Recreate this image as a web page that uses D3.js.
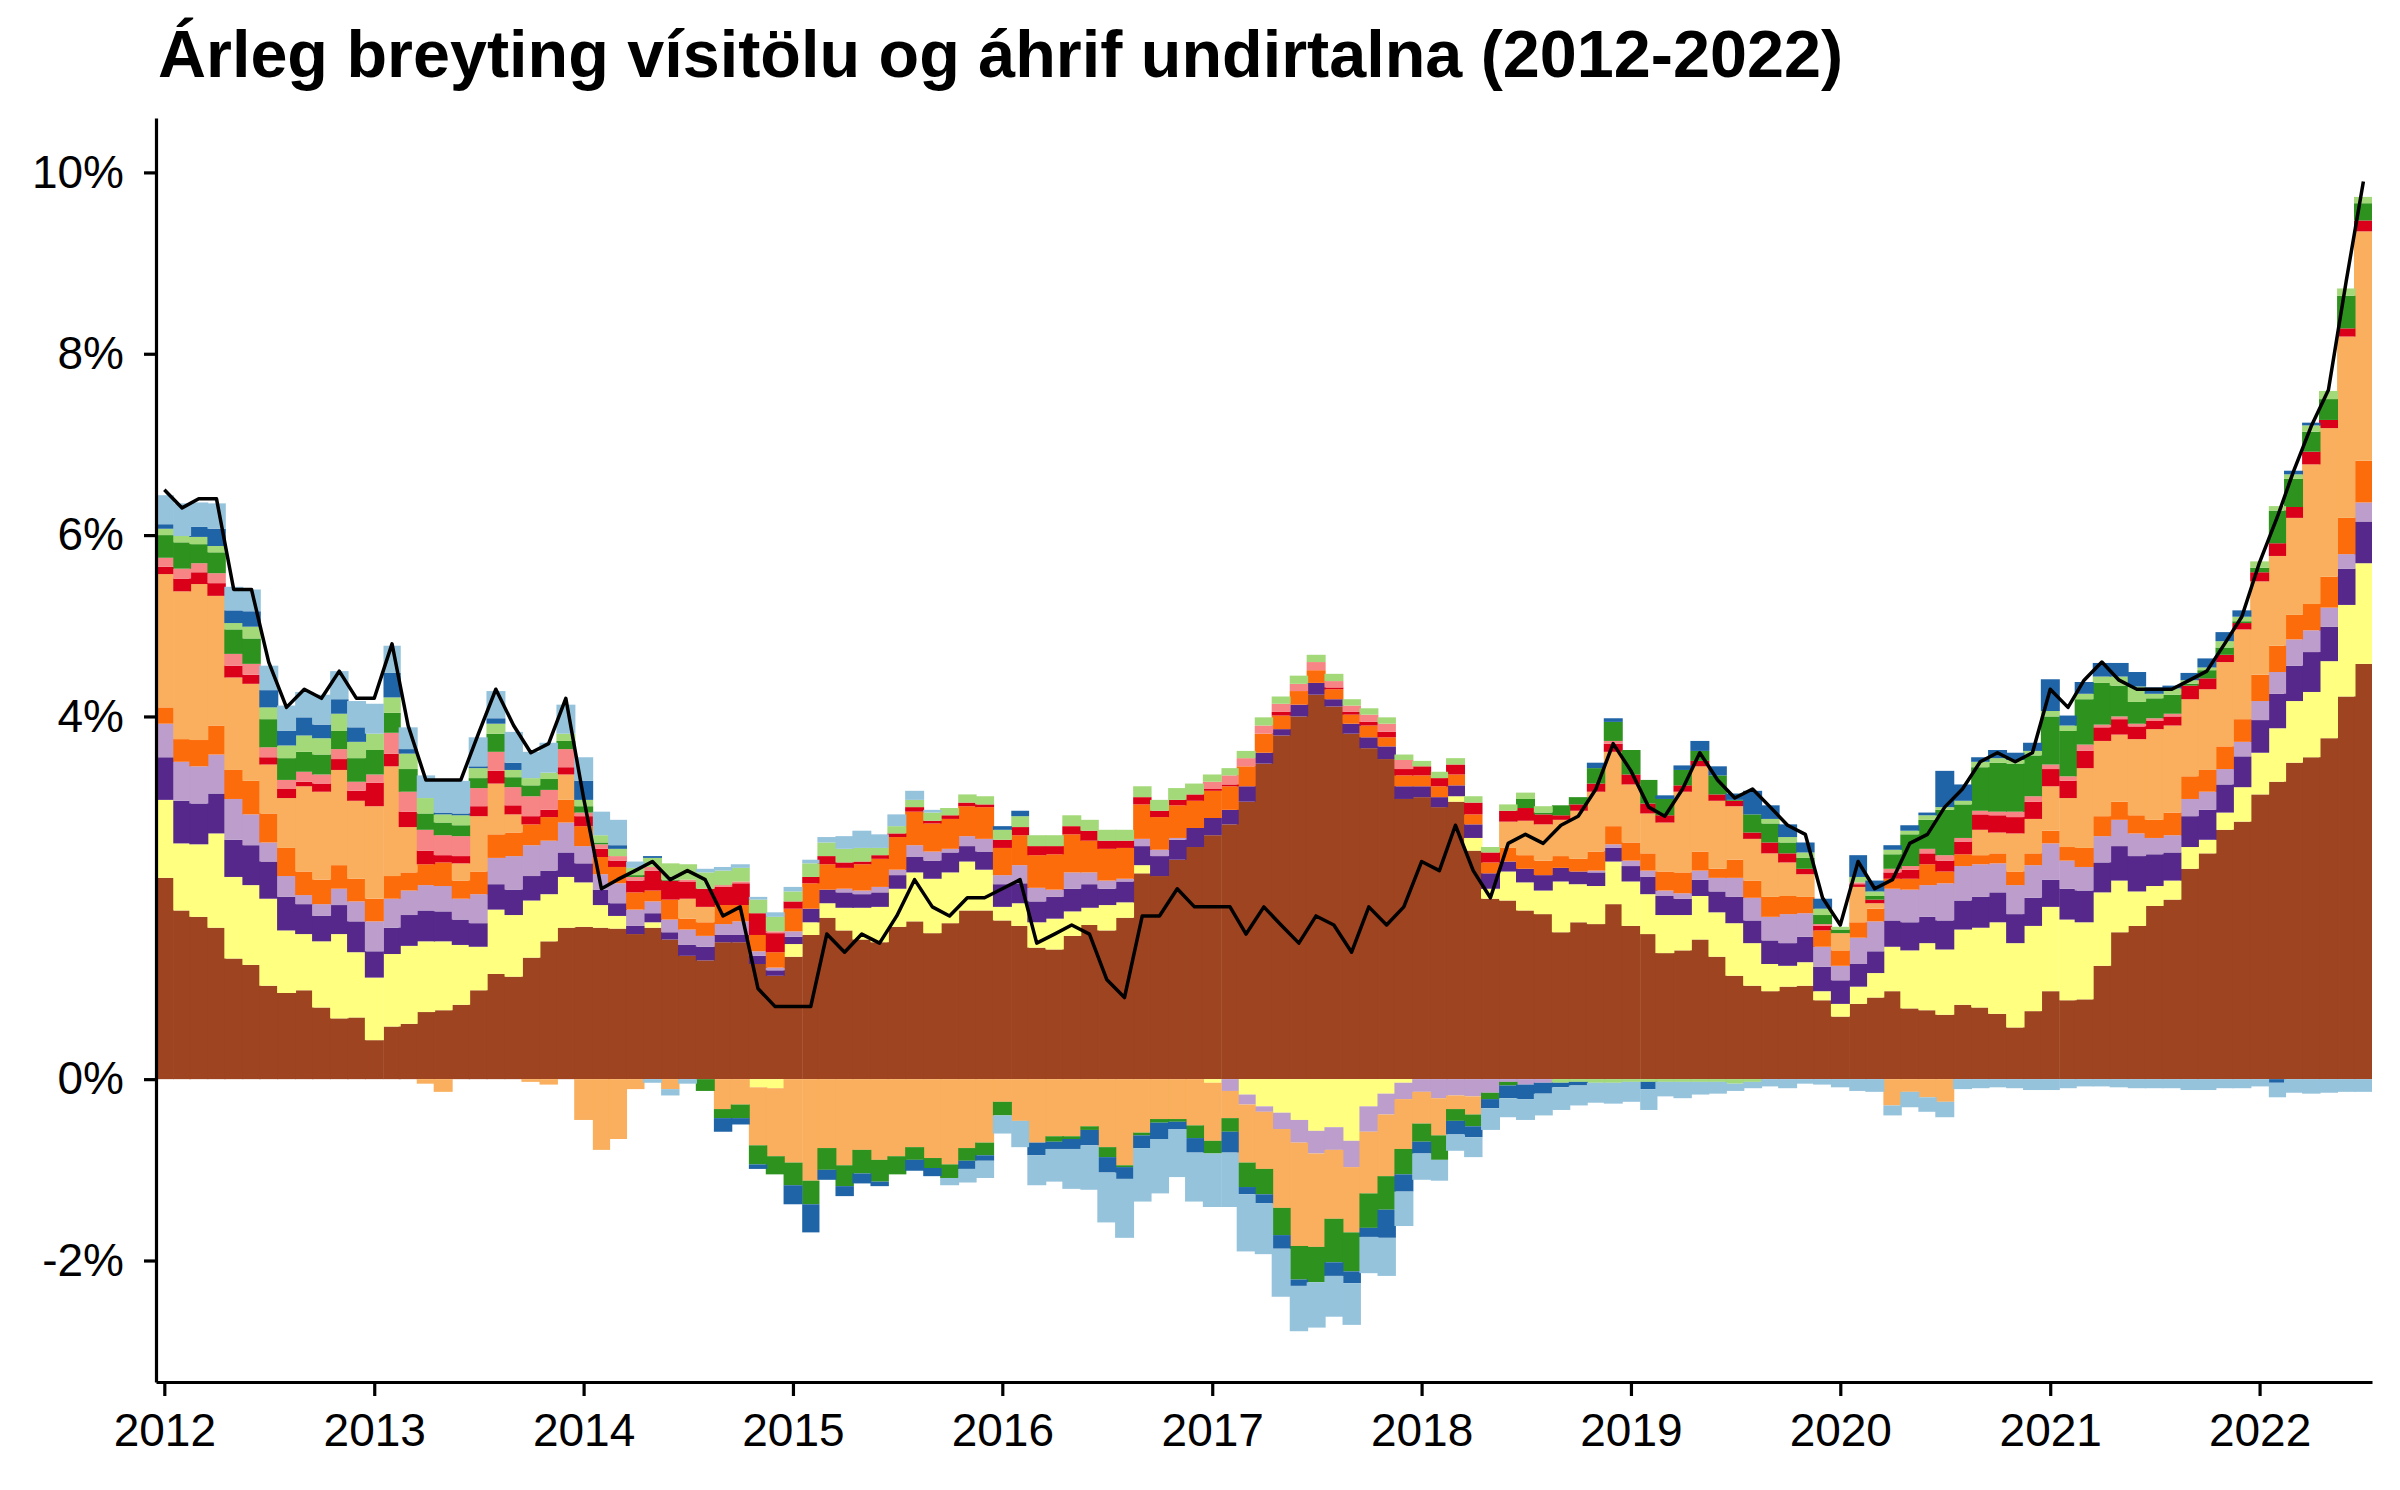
<!DOCTYPE html>
<html>
<head>
<meta charset="utf-8">
<script src="https://cdn.jsdelivr.net/npm/d3@7"></script>
<style>
  html, body { margin: 0; padding: 0; background: #ffffff; }
  svg { display: block; }
</style>
</head>
<body>
<svg id="chart" width="2400" height="1490"></svg>
<script>
// ---------------- DATA ----------------
const titleText = "Árleg breyting vísitölu og áhrif undirtalna (2012-2022)";
const firstMonth = "2012-01";
const lastMonth = "2022-07";
const yTickValues = [-2, 0, 4, 6, 8, 10];
const xTickYears = [2012, 2013, 2014, 2015, 2016, 2017, 2018, 2019, 2020, 2021, 2022];

// component contributions (percentage points), Jan 2012 .. Jul 2022
const brown = [
  2.22, 1.86, 1.79, 1.67, 1.33, 1.26, 1.03, 0.95, 0.98, 0.79, 0.67, 0.68,
  0.43, 0.58, 0.61, 0.74, 0.76, 0.82, 0.98, 1.16, 1.13, 1.34, 1.52, 1.67,
  1.68, 1.67, 1.66, 1.60, 1.67, 1.54, 1.36, 1.31, 1.51, 1.51, 1.27, 1.14,
  1.35, 1.59, 1.78, 1.64, 1.54, 1.51, 1.68, 1.74, 1.61, 1.72, 1.86, 1.86,
  1.75, 1.69, 1.45, 1.43, 1.58, 1.70, 1.64, 1.78, 2.27, 2.24, 2.42, 2.56,
  2.69, 2.81, 3.06, 3.48, 3.79, 4.00, 4.24, 4.11, 3.81, 3.65, 3.53, 3.09,
  3.11, 3.00, 3.06, 2.52, 1.99, 1.97, 1.86, 1.82, 1.62, 1.73, 1.71, 1.93,
  1.69, 1.60, 1.39, 1.42, 1.54, 1.35, 1.14, 1.03, 0.97, 1.02, 1.03, 0.87,
  0.69, 0.83, 0.90, 0.97, 0.78, 0.76, 0.71, 0.82, 0.79, 0.72, 0.57, 0.75,
  0.97, 0.87, 0.88, 1.25, 1.62, 1.69, 1.91, 1.98, 2.32, 2.49, 2.75, 2.84,
  3.14, 3.28, 3.49, 3.55, 3.76, 4.22, 4.58
];
const yellow = [
  0.86, 0.74, 0.80, 1.04, 0.90, 0.88, 0.96, 0.69, 0.62, 0.73, 0.93, 0.72,
  0.69, 0.80, 0.86, 0.78, 0.76, 0.66, 0.48, 0.71, 0.68, 0.63, 0.52, 0.56,
  0.49, 0.25, 0.14, 0, 0.06, 0, 0, 0, 0, 0, -0.09, -0.10,
  0.14, 0.14, 0.16, 0.25, 0.35, 0.39, 0.42, 0.54, 0.60, 0.56, 0.54, 0.45,
  0.15, 0.25, 0.28, 0.34, 0.27, 0.19, 0.28, 0.17, 0.09, 0, 0, 0,
  -0.04, 0, -0.17, -0.30, -0.37, -0.45, -0.57, -0.53, -0.68, -0.30, -0.16, -0.04,
  0, 0, 0.06, 0.14, 0.11, 0.32, 0.31, 0.26, 0.56, 0.42, 0.42, 0.47,
  0.49, 0.44, 0.42, 0.39, 0.48, 0.49, 0.58, 0.47, 0.30, 0.23, 0.26, 0.10,
  0.14, 0.19, 0.27, 0.49, 0.64, 0.74, 0.72, 0.83, 0.88, 1.01, 0.93, 0.94,
  0.93, 0.89, 0.85, 0.81, 0.57, 0.38, 0.22, 0.21, 0.24, 0.15, 0.19, 0.38,
  0.46, 0.59, 0.68, 0.72, 0.85, 1.01, 1.11
];
const purple = [
  0.47, 0.47, 0.45, 0.44, 0.41, 0.44, 0.41, 0.37, 0.33, 0.28, 0.32, 0.34,
  0.29, 0.29, 0.34, 0.34, 0.33, 0.28, 0.26, 0.28, 0.28, 0.27, 0.26, 0.27,
  0.21, 0.17, 0.14, 0.09, 0.10, 0.08, 0.12, 0.15, 0.08, 0.08, 0.09, 0.06,
  0.08, 0.15, 0.15, 0.17, 0.15, 0.16, 0.15, 0.17, 0.20, 0.22, 0.17, 0.20,
  0.25, 0.22, 0.23, 0.24, 0.25, 0.26, 0.18, 0.23, 0.21, 0.22, 0.22, 0.21,
  0.19, 0.16, 0.17, 0.12, 0.07, 0.13, 0.13, 0.08, 0.11, 0.12, 0.14, 0.14,
  0.12, 0.11, 0.12, 0.15, 0.17, 0.11, 0.15, 0.17, 0.15, 0.14, 0.15, 0.15,
  0.17, 0.19, 0.21, 0.18, 0.18, 0.23, 0.29, 0.25, 0.26, 0.25, 0.28, 0.27,
  0.26, 0.25, 0.24, 0.29, 0.31, 0.29, 0.32, 0.32, 0.34, 0.33, 0.32, 0.31,
  0.30, 0.34, 0.35, 0.33, 0.38, 0.39, 0.35, 0.31, 0.34, 0.33, 0.31, 0.34,
  0.36, 0.38, 0.39, 0.44, 0.38, 0.40, 0.46
];
const lightPurple = [
  0.37, 0.43, 0.41, 0.43, 0.45, 0.34, 0.21, 0.23, 0.10, 0.13, 0.18, 0.22,
  0.33, 0.32, 0.27, 0.28, 0.28, 0.23, 0.32, 0.29, 0.37, 0.34, 0.33, 0.33,
  0.19, 0.17, 0.22, 0.18, 0.13, 0.14, 0.17, 0.12, 0.12, 0.15, 0.05, 0.03,
  0.06, 0, 0, 0.04, 0.04, 0.06, 0.06, 0.13, 0.10, 0.04, 0.11, 0.14,
  0.10, 0.20, 0.15, 0.08, 0.18, 0.13, 0.09, 0.03, 0.08, 0.07, 0.02, 0,
  0, -0.13, -0.11, -0.06, -0.18, -0.25, -0.25, -0.25, -0.29, -0.28, -0.23, -0.18,
  -0.14, -0.21, -0.18, -0.19, -0.15, -0.03, -0.06, -0.04, 0, 0, 0.02, 0.04,
  0.06, 0.07, 0.06, 0.06, 0.10, 0.15, 0.21, 0.25, 0.26, 0.32, 0.26, 0.22,
  0.16, 0.29, 0.33, 0.35, 0.36, 0.35, 0.41, 0.38, 0.36, 0.32, 0.32, 0.36,
  0.40, 0.31, 0.26, 0.29, 0.29, 0.25, 0.18, 0.19, 0.19, 0.20, 0.17, 0.16,
  0.21, 0.24, 0.29, 0.24, 0.21, 0.16, 0.21
];
const orange = [
  0.18, 0.25, 0.29, 0.32, 0.32, 0.37, 0.32, 0.31, 0.26, 0.27, 0.26, 0.25,
  0.25, 0.25, 0.20, 0.23, 0.26, 0.20, 0.25, 0.26, 0.26, 0.23, 0.26, 0.25,
  0.22, 0.19, 0.18, 0.19, 0.12, 0.22, 0.12, 0.15, 0.21, 0.18, 0.18, 0.17,
  0.25, 0.28, 0.28, 0.23, 0.29, 0.31, 0.36, 0.37, 0.31, 0.33, 0.33, 0.35,
  0.30, 0.33, 0.36, 0.39, 0.42, 0.35, 0.35, 0.34, 0.38, 0.36, 0.36, 0.30,
  0.30, 0.26, 0.22, 0.21, 0.15, 0.15, 0.14, 0.11, 0.10, 0.13, 0.10, 0.12,
  0.12, 0.12, 0.12, 0.11, 0.12, 0.15, 0.15, 0.16, 0.13, 0.14, 0.21, 0.20,
  0.20, 0.19, 0.21, 0.23, 0.21, 0.10, 0.20, 0.19, 0.22, 0.20, 0.18, 0.18,
  0.17, 0.17, 0.14, 0.11, 0.12, 0.23, 0.13, 0.13, 0.10, 0.11, 0.15, 0.13,
  0.14, 0.15, 0.21, 0.22, 0.20, 0.20, 0.20, 0.25, 0.25, 0.24, 0.25, 0.25,
  0.29, 0.29, 0.27, 0.29, 0.34, 0.40, 0.46
];
const lightOrange = [
  1.47, 1.63, 1.72, 1.43, 1.02, 1.07, 0.54, 0.55, 0.94, 0.97, 1.05, 0.86,
  1.02, 1.21, 0.50, -0.05, -0.14, 0.19, 0.61, 0.56, 0.20, -0.03, -0.06, 0.28,
  -0.45, -0.78, -0.66, -0.11, 0, -0.11, 0.22, 0.17, -0.33, -0.28, -0.64, -0.75,
  -0.92, -1.12, -0.76, -0.95, -0.78, -0.89, -0.85, -0.75, -0.87, -0.94, -0.76, -0.70,
  -0.25, -0.46, -0.70, -0.63, -0.63, -0.52, -0.75, -0.95, -0.59, -0.44, -0.44, -0.51,
  -0.64, -0.30, -0.64, -0.63, -0.87, -1.14, -1.03, -0.76, -0.72, -0.68, -0.68, -0.55,
  -0.35, -0.41, -0.15, -0.20, 0, 0.29, 0.38, 0.40, 0.40, 0.53, 0.66, 0.82,
  0.64, 0.44, 0.54, 0.89, 0.94, 0.75, 0.59, 0.46, 0.48, 0.37, 0.25, 0,
  0.19, 0.39, 0.06, -0.29, -0.14, -0.20, -0.25, 0, 0.28, 0.23, 0.42, 0.38,
  0.49, 0.54, 0.88, 0.83, 0.74, 0.84, 1.00, 0.96, 0.85, 0.89, 0.93, 0.99,
  1.03, 0.99, 1.07, 1.54, 1.64, 2.00, 2.53
];
const red = [
  0.08, 0.14, 0.13, 0.14, 0.13, 0.10, 0.08, 0.10, 0.05, 0.09, 0.12, 0.11,
  0.26, 0.14, 0.17, 0.15, 0.08, 0.08, 0.11, 0.14, 0.10, 0.09, 0.08, 0.08,
  0.11, 0.09, 0.07, 0.13, 0.22, 0.21, 0.19, 0.20, 0.20, 0.24, 0.24, 0.21,
  0.08, 0.07, 0.09, 0.06, 0.03, 0.04, 0.04, 0.05, 0.03, 0.04, 0.04, 0.03,
  0.09, 0.09, 0.10, 0.09, 0.09, 0.11, 0.09, 0.08, 0.08, 0.07, 0.06, 0.07,
  0.02, 0.02, 0, 0, 0.04, 0, 0, 0.02, 0.03, 0.04, 0.06, 0.07,
  0.10, 0.09, 0.11, 0.13, 0.11, 0.12, 0.14, 0.11, 0.05, 0.07, 0.09, 0.09,
  0.11, 0.11, 0.08, 0.07, 0.06, 0.07, 0.06, 0.07, 0.12, 0.10, 0.06, 0.05,
  0, 0.03, 0.04, 0.07, 0.10, 0.12, 0.12, 0.14, 0.17, 0.19, 0.18, 0.19,
  0.19, 0.19, 0.19, 0.15, 0.17, 0.14, 0.09, 0.10, 0.15, 0.12, 0.08, 0.07,
  0.10, 0.14, 0.12, 0.14, 0.09, 0.09, 0.12
];
const pink = [
  0.10, 0.11, 0.10, 0.11, 0.13, 0.12, 0.11, 0.10, 0.11, 0.10, 0.11, 0.10,
  0.09, 0.23, 0.22, 0.23, 0.22, 0.22, 0.20, 0.21, 0.20, 0.22, 0.22, 0.20,
  0.04, 0.05, 0.05, 0.04, 0.04, 0, 0.02, 0, 0.02, 0.02, 0, 0.02,
  0, 0, 0, 0, 0, 0, 0, 0, 0, 0, 0, 0,
  0, 0, 0, 0, 0, 0, 0, 0, 0, 0, 0, 0,
  0.08, 0.10, 0.09, 0.09, 0.09, 0.08, 0.09, 0.07, 0.07, 0.08, 0.09, 0.10,
  0, 0, 0, 0, 0, 0, 0, 0, 0, 0, 0, 0.03,
  0, 0, 0, 0, 0, 0, 0, 0, 0, 0, 0, 0.02,
  0, 0.02, 0, 0.04, 0.04, 0.05, 0.06, 0.04, 0.04, 0.04, 0.06, 0.06,
  0.05, 0.05, 0.07, 0.03, 0.03, 0.03, 0.03, 0.03, 0, 0, 0, 0,
  0, 0, 0, 0, 0, 0, 0
];
const darkGreen = [
  0.25, 0.29, 0.21, 0.23, 0.27, 0.28, 0.31, 0.24, 0.22, 0.22, 0.20, 0.26,
  0.27, 0.22, 0.25, 0.18, 0.14, 0.12, 0.11, 0.20, 0.11, 0.12, 0.12, 0.09,
  0.07, 0.02, 0, 0.02, 0, 0.01, 0, -0.13, -0.10, -0.15, -0.21, -0.20,
  -0.25, -0.26, -0.24, -0.23, -0.26, -0.24, -0.20, -0.14, -0.11, -0.15, -0.14, -0.14,
  -0.15, 0, 0, -0.06, -0.03, -0.04, -0.11, -0.02, -0.03, -0.04, -0.03, -0.14,
  -0.14, -0.15, -0.27, -0.28, -0.30, -0.37, -0.39, -0.48, -0.43, -0.38, -0.37, -0.28,
  -0.20, -0.27, -0.13, -0.13, -0.07, -0.04, 0.10, 0.02, 0.11, 0.08, 0.17, 0.21,
  0.27, 0.26, 0.18, 0.17, 0.11, 0.21, 0.01, 0.20, 0.21, 0.12, 0.12, 0.10,
  0.04, 0, 0.04, 0.16, 0.35, 0.32, 0.50, 0.37, 0.48, 0.54, 0.53, 0.45,
  0.53, 0.50, 0.50, 0.46, 0.34, 0.24, 0.22, 0.21, 0.02, 0.09, 0.08, 0.02,
  0.05, 0.36, 0.31, 0.22, 0.23, 0.36, 0.19
];
const lightGreen = [
  0.07, 0.07, 0.08, 0.07, 0.07, 0.13, 0.13, 0.14, 0.18, 0.18, 0.19, 0.18,
  0.18, 0.17, 0.17, 0.17, 0.09, 0.11, 0.11, 0.11, 0.08, 0.08, 0.07, 0.08,
  0.07, 0.08, 0.08, 0.08, 0.10, 0.18, 0.17, 0.18, 0.16, 0.15, 0.15, 0.16,
  0.11, 0.15, 0.15, 0.15, 0.15, 0.08, 0.08, 0.08, 0.09, 0.08, 0.09, 0.09,
  0.11, 0.12, 0.12, 0.12, 0.12, 0.12, 0.12, 0.12, 0.12, 0.12, 0.13, 0.12,
  0.08, 0.08, 0.08, 0.09, 0.08, 0.09, 0.08, 0.08, 0.07, 0.07, 0.07, 0.06,
  0.06, 0.07, 0.07, 0.07, 0.06, 0.07, 0.07, 0.07, -0.04, -0.03, -0.04, -0.04,
  -0.03, -0.03, -0.03, -0.03, -0.03, -0.03, -0.05, -0.03, 0.05, 0.06, 0.06, 0.07,
  0.03, 0.06, 0.05, 0.05, 0.04, 0.05, 0.03, 0.04, 0.06, 0.05, 0.04, 0.05,
  0.06, 0.06, 0.06, 0.07, 0.10, 0.17, 0.05, 0.07, 0.04, 0.03, 0.07, 0.05,
  0.07, 0.05, 0.05, 0.07, 0.09, 0.08, 0.07
];
const darkBlue = [
  0.05, 0, 0.11, 0.19, 0.14, 0.17, 0.19, 0.16, 0.20, 0.15, 0.16, 0.16,
  0, 0.27, 0.05, 0, 0.02, 0.02, 0.02, 0.06, 0.08, 0, 0, 0,
  0.21, 0, 0.04, 0, 0.02, 0, 0, 0, -0.15, -0.07, -0.05, 0,
  -0.21, -0.31, -0.11, -0.11, -0.11, -0.05, 0, -0.12, -0.09, 0, -0.09, -0.06,
  0.04, 0.06, -0.14, -0.08, -0.11, -0.17, -0.17, -0.13, -0.14, -0.18, -0.08, -0.16,
  0, -0.23, -0.08, -0.10, -0.15, -0.07, 0, -0.15, -0.13, -0.10, -0.31, -0.19,
  -0.13, 0, -0.15, -0.12, -0.10, -0.14, -0.16, -0.12, -0.05, -0.04, 0.06, 0.04,
  0, -0.08, 0.04, 0.05, 0.11, 0.10, 0.07, 0.26, 0.15, 0.14, 0.11, 0.11,
  0, 0.24, 0.12, 0.05, 0.06, 0.03, 0.40, 0.18, 0.05, 0.09, 0.08, 0.09,
  0.35, 0.11, 0.13, 0.15, 0.15, 0.16, 0.07, 0.03, 0.08, 0.10, 0.10, 0.07,
  0, -0.04, 0.04, 0.03, 0, 0, 0
];
const lightBlue = [
  0.32, 0.36, 0.27, 0.28, 0.26, 0.24, 0.27, 0.28, 0.28, 0.33, 0.31, 0.29,
  0.33, 0.30, 0.24, 0.25, 0.36, 0.36, 0.32, 0.30, 0.34, 0.29, 0.33, 0.32,
  0.26, 0.26, 0.28, 0.07, -0.04, -0.07, -0.05, 0.04, 0.04, 0.04, 0.03, 0.05,
  0.05, 0.04, 0.06, 0.14, 0.19, 0.15, 0.13, 0.10, 0.03, -0.08, -0.15, -0.19,
  -0.20, -0.29, -0.33, -0.36, -0.44, -0.49, -0.55, -0.65, -0.59, -0.60, -0.53, -0.54,
  -0.59, -0.60, -0.63, -0.56, -0.53, -0.50, -0.50, -0.45, -0.46, -0.40, -0.42, -0.38,
  -0.29, -0.23, -0.18, -0.22, -0.24, -0.21, -0.23, -0.24, -0.25, -0.22, -0.22, -0.23,
  -0.22, -0.23, -0.16, -0.18, -0.14, -0.13, -0.08, -0.07, -0.08, -0.10, -0.05, -0.06,
  -0.09, -0.13, -0.14, -0.11, -0.17, -0.16, -0.17, -0.11, -0.10, -0.09, -0.10, -0.12,
  -0.12, -0.10, -0.08, -0.08, -0.09, -0.10, -0.10, -0.10, -0.12, -0.12, -0.10, -0.10,
  -0.08, -0.16, -0.15, -0.16, -0.15, -0.14, -0.14
];
// total annual change of the index (line)
const totalIndex = [
  6.5, 6.3, 6.4, 6.4, 5.4, 5.4, 4.6, 4.1, 4.3, 4.2, 4.5, 4.2,
  4.2, 4.8, 3.9, 3.3, 3.3, 3.3, 3.8, 4.3, 3.9, 3.6, 3.7, 4.2,
  3.1, 2.1, 2.2, 2.3, 2.4, 2.2, 2.3, 2.2, 1.8, 1.9, 1.0, 0.8,
  0.8, 0.8, 1.6, 1.4, 1.6, 1.5, 1.8, 2.2, 1.9, 1.8, 2.0, 2.0,
  2.1, 2.2, 1.5, 1.6, 1.7, 1.6, 1.1, 0.9, 1.8, 1.8, 2.1, 1.9,
  1.9, 1.9, 1.6, 1.9, 1.7, 1.5, 1.8, 1.7, 1.4, 1.9, 1.7, 1.9,
  2.4, 2.3, 2.8, 2.3, 2.0, 2.6, 2.7, 2.6, 2.8, 2.9, 3.2, 3.7,
  3.4, 3.0, 2.9, 3.2, 3.6, 3.3, 3.1, 3.2, 3.0, 2.8, 2.7, 2.0,
  1.7, 2.4, 2.1, 2.2, 2.6, 2.7, 3.0, 3.2, 3.5, 3.6, 3.5, 3.6,
  4.3, 4.1, 4.4, 4.6, 4.4, 4.3, 4.3, 4.3, 4.4, 4.5, 4.8, 5.1,
  5.7, 6.2, 6.7, 7.2, 7.6, 8.8, 9.9
];

// ---------------- STYLE ----------------
const seriesKeys = ["brown", "yellow", "purple", "lightPurple", "orange", "lightOrange",
                    "red", "pink", "darkGreen", "lightGreen", "darkBlue", "lightBlue"];
const seriesValues = { brown, yellow, purple, lightPurple, orange, lightOrange,
                       red, pink, darkGreen, lightGreen, darkBlue, lightBlue };
const palette = {
  brown: "#9e4420", yellow: "#ffff80", purple: "#57288b", lightPurple: "#bc9dcb",
  orange: "#fd6c0b", lightOrange: "#f9af5d", red: "#db001a", pink: "#f78585",
  darkGreen: "#2e921f", lightGreen: "#a3d978", darkBlue: "#1f64a6", lightBlue: "#96c3dc"
};
const FONT = "'Liberation Sans', Arial, Helvetica, sans-serif";

// ---------------- BUILD ----------------
const parseMonth = d3.timeParse("%Y-%m");
const months = d3.timeMonth.range(parseMonth(firstMonth), d3.timeMonth.offset(parseMonth(lastMonth), 1));

const table = months.map((m, i) => {
  const row = { date: m };
  seriesKeys.forEach(k => { row[k] = seriesValues[k][i]; });
  return row;
});

const svg = d3.select("#chart");
svg.append("rect").attr("width", 2400).attr("height", 1490).attr("fill", "#ffffff");

const plotLeft = 156, plotRight = 2372, plotTop = 118, plotBottom = 1382;

const x = d3.scaleTime()
  .domain([new Date(2011, 11, 17, 12), new Date(2022, 6, 16)])
  .range([plotLeft, plotRight]);
const y = d3.scaleLinear()
  .domain([-3.34, 10.6])
  .range([plotBottom, plotTop]);

const stack = d3.stack().keys(seriesKeys).offset(d3.stackOffsetDiverging);
const layers = stack(table);

svg.append("defs").append("clipPath").attr("id", "plotclip")
  .append("rect").attr("x", plotLeft).attr("y", plotTop)
  .attr("width", plotRight - plotLeft).attr("height", plotBottom - plotTop);

const gBars = svg.append("g").attr("clip-path", "url(#plotclip)");
const barLeft = d => {
  const c = x(d.data.date);
  const w = x(d3.timeMonth.offset(d.data.date, 1)) - c;
  return c - w / 2;
};
const barWidth = d => x(d3.timeMonth.offset(d.data.date, 1)) - x(d.data.date);
layers.forEach(layer => {
  gBars.append("g").attr("fill", palette[layer.key])
    .selectAll("rect")
    .data(layer.filter(d => Math.abs(d[1] - d[0]) > 1e-9))
    .join("rect")
    .attr("x", d => barLeft(d) - 0.5)
    .attr("width", d => barWidth(d) + 1.2)
    .attr("y", d => y(Math.max(d[0], d[1])))
    .attr("height", d => Math.abs(y(d[0]) - y(d[1])));
});

// line
const line = d3.line()
  .x((d, i) => x(months[i]))
  .y(d => y(d));
svg.append("path")
  .datum(totalIndex)
  .attr("d", line)
  .attr("fill", "none")
  .attr("stroke", "#000000")
  .attr("stroke-width", 3.5)
  .attr("stroke-linejoin", "round");

// axes
const yAxis = d3.axisLeft(y)
  .tickValues(yTickValues)
  .tickFormat(d => d + "%")
  .tickSizeInner(12).tickSizeOuter(0).tickPadding(20);
const gy = svg.append("g").attr("transform", `translate(${plotLeft},0)`).call(yAxis);

const xAxis = d3.axisBottom(x)
  .tickValues(xTickYears.map(yr => new Date(yr, 0, 1)))
  .tickFormat(d3.timeFormat("%Y"))
  .tickSizeInner(14).tickSizeOuter(0).tickPadding(17);
const gx = svg.append("g").attr("transform", `translate(0,${plotBottom})`).call(xAxis);

[gy, gx].forEach(g => {
  g.select(".domain").attr("stroke", "#000").attr("stroke-width", 3.2);
  g.selectAll(".tick line").attr("stroke", "#000").attr("stroke-width", 3.2);
  g.selectAll(".tick text")
    .attr("fill", "#000")
    .style("font-family", FONT)
    .style("font-size", "46px");
});

// title
svg.append("text")
  .attr("x", 158).attr("y", 77)
  .style("font-family", FONT)
  .style("font-weight", "bold")
  .style("font-size", "66.5px")
  .attr("fill", "#000")
  .text(titleText);
</script>
</body>
</html>
